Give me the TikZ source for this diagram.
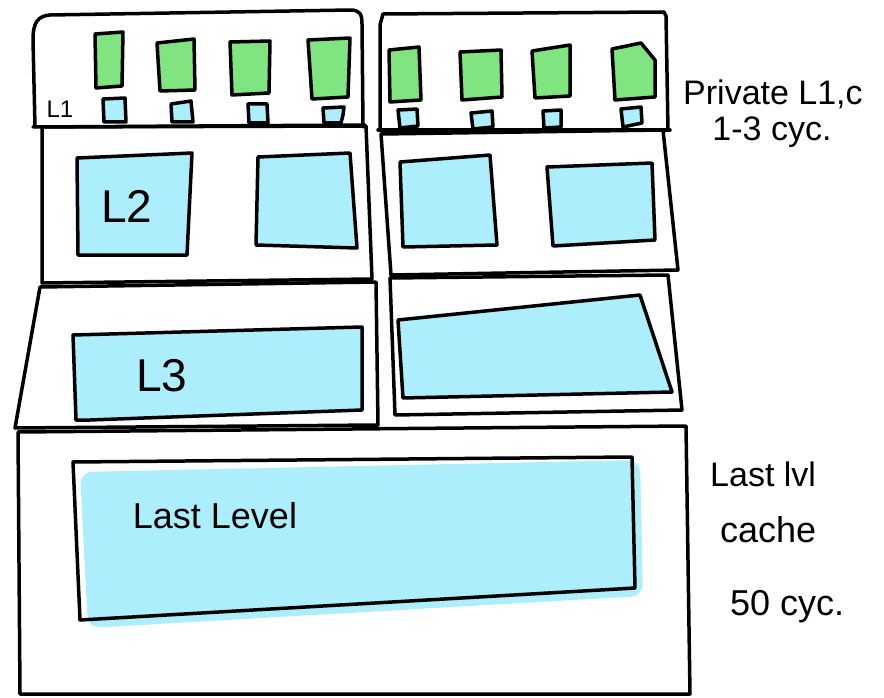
\documentclass[tikz,border=0pt]{standalone}
\usepackage{fontspec}
\setmainfont{Liberation Sans}
\definecolor{cgreen}{RGB}{128,228,128}
\definecolor{cblue}{RGB}{172,238,251}
\tikzset{
  outline/.style={draw=black, line width=3.5pt, line cap=round, line join=round},
  greencell/.style={outline, fill=cgreen},
  bluecell/.style={outline, fill=cblue},
  lbl/.style={inner sep=0pt, text=black}
}
\begin{document}
\begin{tikzpicture}[x=1pt,y=-1pt]
\useasboundingbox (0,0) rectangle (884,698);

% ---------- top-left L1 box ----------
\draw[outline] (35,127) -- (33,40) .. controls (33,22) and (38,16) .. (50,15) -- (350,10) .. controls (360,10) and (362,14) .. (362,24) -- (363,127);
\draw[outline] (33,127) -- (365,125);
\filldraw[greencell] (95,34) -- (123,32) -- (122,86) -- (96,88) -- cycle;
\filldraw[greencell] (157,43) -- (194,39) -- (195,90) -- (160,91) -- cycle;
\filldraw[greencell] (230,42) -- (270,41) -- (269,93) -- (232,95) -- cycle;
\filldraw[greencell] (308,40) -- (350,38) -- (348,97) -- (312,99) -- cycle;
\filldraw[bluecell] (103,99) -- (125,98) -- (126,122) -- (104,122) -- cycle;
\filldraw[bluecell] (171,104) -- (191,101) -- (193,122) -- (172,122) -- cycle;
\filldraw[bluecell] (248,104) -- (267,104) -- (268,123) -- (249,123) -- cycle;
\filldraw[bluecell] (323,108) -- (344,107) -- (343,115) -- (341,123) -- (324,123) -- cycle;
\node[lbl, font=\fontsize{24}{24}\selectfont] (l1) at (60,109) {L1};

% ---------- top-right L1 box ----------
\draw[outline] (380,130) -- (380,25) -- (383,14) -- (664,12) -- (666,16) -- (668,130);
\draw[outline] (378,130) -- (670,130);
\filldraw[greencell] (389,50) -- (419,47) -- (421,100) -- (390,102) -- cycle;
\filldraw[greencell] (460,52) -- (501,50) -- (502,97) -- (462,100) -- cycle;
\filldraw[greencell] (532,51) -- (570,45) -- (570,96) -- (535,98) -- cycle;
\filldraw[greencell] (612,49) -- (641,43) -- (655,60) -- (655,97) -- (615,100) -- cycle;
\filldraw[bluecell] (398,110) -- (417,109) -- (418,126) -- (400,128) -- cycle;
\filldraw[bluecell] (471,113) -- (492,111) -- (493,127) -- (473,129) -- cycle;
\filldraw[bluecell] (543,111) -- (561,110) -- (561,127) -- (544,128) -- cycle;
\filldraw[bluecell] (621,109) -- (641,107) -- (642,123) -- (623,127) -- cycle;

% ---------- L2 left ----------
\draw[outline] (42,127) -- (366,126) -- (372,279) -- (42,283) -- cycle;
\filldraw[bluecell] (77,158) -- (192,153) -- (187,255) -- (78,255) -- cycle;
\filldraw[bluecell] (258,157) -- (350,153) -- (357,248) -- (256,245) -- cycle;
\node[lbl, font=\fontsize{46}{46}\selectfont] (l2) at (127,206) {L2};

% ---------- L2 right ----------
\draw[outline] (381,134) -- (663,130) -- (678,270) -- (391,275) -- cycle;
\filldraw[bluecell] (400,162) -- (490,155) -- (497,245) -- (403,247) -- cycle;
\filldraw[bluecell] (547,167) -- (652,163) -- (655,240) -- (553,246) -- cycle;

% ---------- L3 left ----------
\draw[outline] (40,287) -- (376,282) -- (378,425) -- (15,428) -- cycle;
\filldraw[bluecell] (73,335) -- (362,327) -- (362,410) -- (90,420) -- (76,420) -- cycle;
\node[lbl, font=\fontsize{46}{46}\selectfont] (l3) at (162,376) {L3};

% ---------- L3 right ----------
\draw[outline] (390,278) -- (668,275) -- (682,410) -- (395,415) -- cycle;
\filldraw[bluecell] (398,320) -- (640,295) -- (672,392) -- (403,398) -- cycle;

% ---------- Last level ----------
\draw[outline] (18,432) -- (686,426) -- (690,694) -- (20,694) -- cycle;
\fill[cblue, rounded corners=12pt] (80,472) -- (640,460) -- (643,596) -- (88,628) -- cycle;
\draw[outline] (73,462) -- (632,457) -- (635,588) -- (80,620) -- cycle;
\node[lbl, font=\fontsize{36}{36}\selectfont] (ll) at (215,516) {Last Level};

% ---------- side notes ----------
\node[lbl, anchor=west, font=\fontsize{34}{34}\selectfont] (priv) at (683,94) {Private L1,c};
\node[lbl, font=\fontsize{34}{34}\selectfont] (lat1) at (772,132) {1-3 cyc.};
\node[lbl, anchor=west, font=\fontsize{34}{34}\selectfont] (llc1) at (710,474) {Last lvl};
\node[lbl, anchor=west, font=\fontsize{36}{36}\selectfont] (llc2) at (720,530) {cache};
\node[lbl, anchor=west, font=\fontsize{36}{36}\selectfont] (lat2) at (730,607) {50 cyc.};
\end{tikzpicture}
\end{document}
